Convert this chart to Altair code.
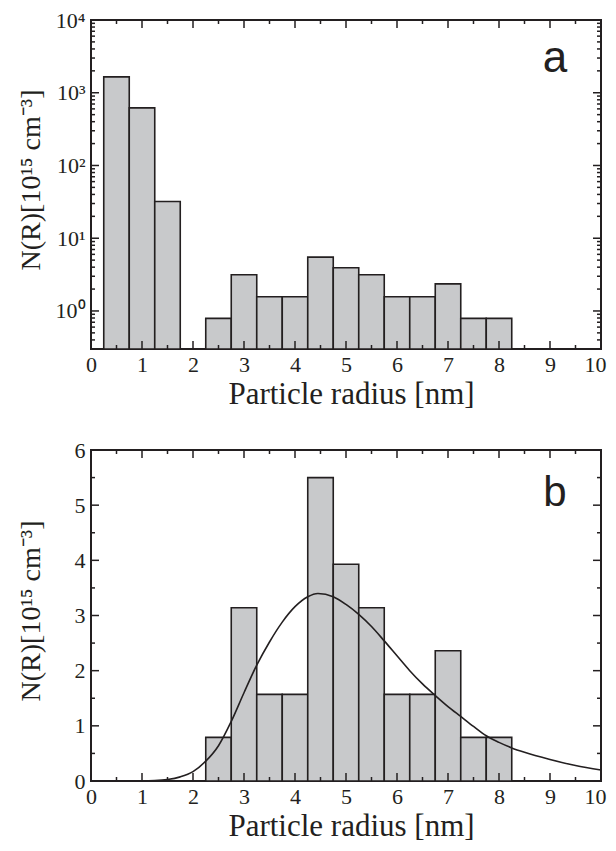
import altair as alt
import pandas as pd

# ---------------- data ----------------
bin_width = 0.5
centers_a = [0.5, 1.0, 1.5, 2.5, 3.0, 3.5, 4.0, 4.5, 5.0, 5.5, 6.0, 6.5, 7.0, 7.5, 8.0]
counts_a = [1650, 620, 32, 0.79, 3.14, 1.57, 1.57, 5.50, 3.93, 3.14, 1.57, 1.57, 2.36, 0.79, 0.79]

centers_b = [2.5, 3.0, 3.5, 4.0, 4.5, 5.0, 5.5, 6.0, 6.5, 7.0, 7.5, 8.0]
counts_b = [0.79, 3.14, 1.57, 1.57, 5.50, 3.93, 3.14, 1.57, 1.57, 2.36, 0.79, 0.79]

curve_x = [0.0, 0.5, 1.0, 1.25, 1.5, 1.75, 2.0, 2.25, 2.5, 2.75, 3.0, 3.25, 3.5, 3.75,
           4.0, 4.25, 4.45, 4.75, 5.0, 5.25, 5.5, 5.75, 6.0, 6.25, 6.5, 6.75, 7.0,
           7.25, 7.5, 7.75, 8.0, 8.25, 8.5, 9.0, 9.5, 10.0]
curve_y = [0.0, 0.0, 0.001, 0.007, 0.027, 0.075, 0.17, 0.36, 0.64, 1.08, 1.60, 2.10, 2.52, 2.88,
           3.16, 3.34, 3.40, 3.34, 3.20, 3.02, 2.80, 2.54, 2.27, 2.00, 1.76, 1.55, 1.35,
           1.17, 0.99, 0.82, 0.70, 0.60, 0.52, 0.39, 0.28, 0.20]

x_major = [0, 1, 2, 3, 4, 5, 6, 7, 8, 9, 10]
x_minor = [0.5, 1.5, 2.5, 3.5, 4.5, 5.5, 6.5, 7.5, 8.5, 9.5]
ya_major = [1, 10, 100, 1000, 10000]
ya_minor = [0.3, 0.4, 0.5, 0.6, 0.7, 0.8, 0.9] + [m * d for d in [1, 10, 100, 1000] for m in range(2, 10)]
yb_major = [0, 1, 2, 3, 4, 5, 6]
yb_minor = [0.5, 1.5, 2.5, 3.5, 4.5, 5.5]

x_title = "Particle radius [nm]"
y_title = "N(R)[10¹⁵ cm⁻³]"
panel_labels = ["a", "b"]

# ---------------- style ----------------
W = 510
HA = 329
HB = 331
SERIF = "Liberation Serif"
SANS = "Liberation Sans"
INK = "#231f20"
FILL = "#c8c9cb"
MAJ = 8
MIN = 4


def bars_df(centers, counts):
    return pd.DataFrame({
        "lo": [c - bin_width / 2 for c in centers],
        "hi": [c + bin_width / 2 for c in centers],
        "n": counts,
    })


def x_axis():
    return alt.Axis(values=x_major, ticks=False, domain=False, grid=False,
                    labelFont=SERIF, labelFontSize=22, labelColor=INK, labelPadding=5,
                    labelFlush=False,
                    labelAlign={"condition": {"test": "datum.value == 10", "value": "right"}, "value": "center"},
                    labelOffset={"condition": {"test": "datum.value == 10", "value": 5}, "value": 0},
                    title=x_title, titleFont=SERIF, titleFontSize=31, titleFontWeight="normal",
                    titleColor=INK, titlePadding=4, titleX=W / 2 + 5)


def y_axis(values, H, expr=None):
    kw = dict(values=values, ticks=False, domain=False, grid=False,
              labelFont=SERIF, labelFontSize=22, labelColor=INK, labelPadding=6,
              title=y_title, titleFont=SERIF, titleFontSize=28, titleFontWeight="normal",
              titleColor=INK, titleX=-46, titleY=H / 2 - 5, labelFlush=False)
    if expr:
        kw["labelExpr"] = expr
    return alt.Axis(**kw)


xscale = alt.Scale(domain=[0, 10], nice=False, zero=False)


def tick_layers(xs, ys, yscale, yax, H):
    layers = []
    for vals, ln in [(xs[0], MAJ), (xs[1], MIN)]:
        d = pd.DataFrame({"t": vals})
        layers.append(alt.Chart(d).mark_rule(color=INK, strokeWidth=1.5).encode(
            x=alt.X("t:Q", scale=xscale, axis=x_axis()), y=alt.value(H), y2=alt.value(H - ln)))
        layers.append(alt.Chart(d).mark_rule(color=INK, strokeWidth=1.5).encode(
            x=alt.X("t:Q", scale=xscale, axis=x_axis()), y=alt.value(0), y2=alt.value(ln)))
    for vals, ln in [(ys[0], MAJ), (ys[1], MIN)]:
        d = pd.DataFrame({"t": vals})
        layers.append(alt.Chart(d).mark_rule(color=INK, strokeWidth=1.5).encode(
            y=alt.Y("t:Q", scale=yscale, axis=yax), x=alt.value(0), x2=alt.value(ln)))
        layers.append(alt.Chart(d).mark_rule(color=INK, strokeWidth=1.5).encode(
            y=alt.Y("t:Q", scale=yscale, axis=yax), x=alt.value(W), x2=alt.value(W - ln)))
    return layers


# ---------------- panel a ----------------
ysc_a = alt.Scale(type="log", domain=[0.3, 10000], nice=False)
expr_a = "['10⁰','10¹','10²','10³','10⁴'][round(log(datum.value)/log(10))]"
yax_a = y_axis(ya_major, HA, expr_a)
bars_a = alt.Chart(bars_df(centers_a, counts_a)).mark_bar(
    fill=FILL, stroke=INK, strokeWidth=1.6).encode(
    x=alt.X("lo:Q", scale=xscale, axis=x_axis()),
    x2="hi:Q",
    y=alt.Y("n:Q", scale=ysc_a, axis=yax_a),
    y2=alt.value(HA),
)
lab_a = alt.Chart(pd.DataFrame({"l": [panel_labels[0]]})).mark_text(
    font=SANS, fontSize=44, color=INK, align="center", baseline="alphabetic").encode(
    text="l:N", x=alt.value(464), y=alt.value(52))
panel_a = alt.layer(bars_a, *tick_layers((x_major, x_minor), (ya_major, ya_minor), ysc_a, yax_a, HA), lab_a).properties(
    width=W, height=HA)

# ---------------- panel b ----------------
ysc_b = alt.Scale(domain=[0, 6], nice=False)
yax_b = y_axis(yb_major, HB)
bars_b = alt.Chart(bars_df(centers_b, counts_b)).mark_bar(
    fill=FILL, stroke=INK, strokeWidth=1.6).encode(
    x=alt.X("lo:Q", scale=xscale, axis=x_axis()),
    x2="hi:Q",
    y=alt.Y("n:Q", scale=ysc_b, axis=yax_b),
    y2=alt.value(HB),
)
curve = alt.Chart(pd.DataFrame({"x": curve_x, "y": curve_y})).mark_line(
    color=INK, strokeWidth=1.6, interpolate="monotone").encode(
    x=alt.X("x:Q", scale=xscale, axis=x_axis()),
    y=alt.Y("y:Q", scale=ysc_b, axis=yax_b),
)
lab_b = alt.Chart(pd.DataFrame({"l": [panel_labels[1]]})).mark_text(
    font=SANS, fontSize=42, color=INK, align="center", baseline="alphabetic").encode(
    text="l:N", x=alt.value(464), y=alt.value(56))
panel_b = alt.layer(bars_b, curve, *tick_layers((x_major, x_minor), (yb_major, yb_minor), ysc_b, yax_b, HB), lab_b).properties(
    width=W, height=HB)

chart = alt.vconcat(panel_a, panel_b, spacing=28).properties(
    padding={"left": 8, "top": 0, "right": 0, "bottom": 0},
    background="white",
).configure_view(stroke=INK, strokeWidth=2)

chart.save("out.html", embed_options={"renderer": "svg", "actions": False})
